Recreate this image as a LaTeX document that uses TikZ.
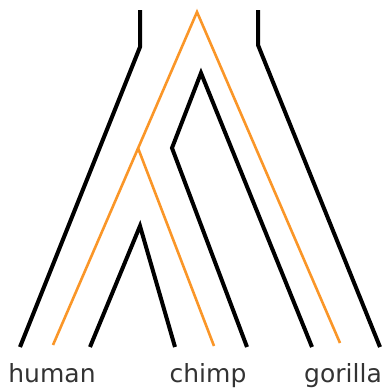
\documentclass[tikz,border=0pt]{standalone}
\usepackage{fontspec}
\setmainfont{DejaVu Sans}
\definecolor{gorange}{RGB}{250,150,40}
\begin{document}
\begin{tikzpicture}[x=1pt,y=-1pt,
  blk/.style={draw=black,line width=4pt,line join=miter},
  org/.style={draw=gorange,line width=2.6pt,line join=miter},
  lab/.style={anchor=base,inner sep=0pt,font=\fontsize{25}{30}\selectfont,text=black!80}]
\useasboundingbox (0,0) rectangle (384,389);
% coordinates
\coordinate (lt) at (140,10);
\coordinate (lk) at (140,47);
\coordinate (lb) at (20,347);
\coordinate (gt) at (258,10);
\coordinate (gk) at (258,45);
\coordinate (gb) at (380,347);
\coordinate (oa) at (197,12);
\coordinate (ol) at (53,345);
\coordinate (or) at (340,343);
\coordinate (oj) at (138,148);
\coordinate (oib) at (214,346);
\coordinate (ca) at (201,73);
\coordinate (ck) at (172,148);
\coordinate (cl) at (247,347);
\coordinate (cr) at (312,347);
\coordinate (ha) at (140,226);
\coordinate (hl) at (90,347);
\coordinate (hr) at (175,347);
% lines
\draw[blk] (lt) -- (lk) -- (lb);
\draw[blk] (gt) -- (gk) -- (gb);
\draw[org] (ol) -- (oa) -- (or);
\draw[org] (oj) -- (oib);
\draw[blk] (cl) -- (ck) -- (ca) -- (cr);
\draw[blk] (hl) -- (ha) -- (hr);
% labels
\node[lab] (human) at (52,382) {human};
\node[lab] (chimp) at (208,382) {chimp};
\node[lab] (gorilla) at (343,382) {gorilla};
\end{tikzpicture}
\end{document}
